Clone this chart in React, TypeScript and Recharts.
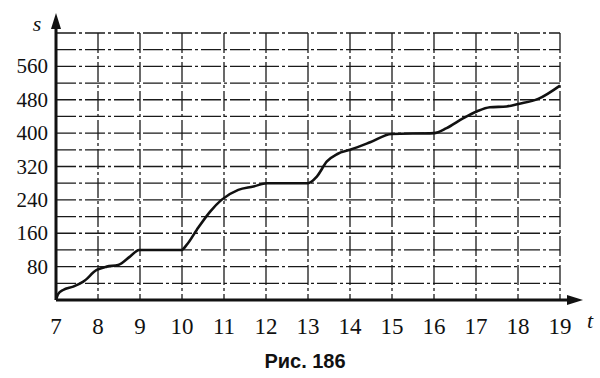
import { LineChart, Line, XAxis, YAxis, CartesianGrid } from "recharts";

// time t (hours) and distance s
const tValues = [
  7, 7.05, 7.17, 7.41, 7.65, 7.97, 8.21, 8.48, 8.76, 8.98, 9.99, 10.11, 10.35,
  10.67, 10.94, 11.34, 11.7, 12.02, 13.0, 13.21, 13.45, 13.7, 14.0, 14.48,
  14.99, 16.0, 16.3, 16.7, 17.02, 17.33, 17.73, 18.01, 18.48, 19,
];
const sValues = [
  0, 14, 24, 32, 44, 72, 80, 84, 104, 120, 120, 132, 168, 212, 240, 264, 272,
  280, 280, 296, 332, 350, 360, 378, 398, 400, 412, 436, 452, 462, 464, 470,
  482, 514,
];
const xTicks = [7, 8, 9, 10, 11, 12, 13, 14, 15, 16, 17, 18, 19];
const yTicks = [0, 40, 80, 120, 160, 200, 240, 280, 320, 360, 400, 440, 480, 520, 560, 600, 640];
const yLabels = [80, 160, 240, 320, 400, 480, 560];

const data = tValues.map((t, i) => ({ t, s: sValues[i] }));

const W = 600;
const H = 378;
const LEFT = 56;
const RIGHT = 560;
const TOP = 33;
const BOTTOM = 300;
const Y_AXIS_W = 50;
const X_AXIS_H = 30;

const serif = "Liberation Serif, DejaVu Serif, serif";

const XTick = (props: any) => {
  const { x, y, payload } = props;
  return (
    <text
      x={x}
      y={y + 28}
      textAnchor="middle"
      fill="#111"
      fontSize={23}
      style={{ fontFamily: serif }}
    >
      {payload.value}
    </text>
  );
};

const YTick = (props: any) => {
  const { x, y, payload } = props;
  if (!yLabels.includes(payload.value)) return <g />;
  return (
    <text
      x={x - 2}
      y={y + 7}
      textAnchor="end"
      fill="#111"
      fontSize={21}
      style={{ fontFamily: serif }}
    >
      {payload.value}
    </text>
  );
};

export default function App() {
  return (
    <div
      style={{
        position: "absolute",
        left: 0,
        top: 0,
        width: W,
        height: H,
        background: "#fff",
      }}
    >
      <LineChart
        width={W}
        height={H}
        data={data}
        margin={{
          top: TOP,
          left: LEFT - Y_AXIS_W,
          right: W - RIGHT,
          bottom: H - BOTTOM - X_AXIS_H,
        }}
      >
        <CartesianGrid
          stroke="#1a1a1a"
          strokeWidth={1.3}
          strokeDasharray="20 3 3 3"
        />
        <XAxis
          dataKey="t"
          type="number"
          domain={[7, 19]}
          ticks={xTicks}
          interval={0}
          height={X_AXIS_H}
          axisLine={false}
          tickLine={false}
          tickMargin={0}
          tick={XTick}
        />
        <YAxis
          type="number"
          domain={[0, 640]}
          ticks={yTicks}
          interval={0}
          width={Y_AXIS_W}
          axisLine={false}
          tickLine={false}
          tickMargin={0}
          tick={YTick}
        />
        <Line
          type="monotone"
          dataKey="s"
          stroke="#111"
          strokeWidth={2.6}
          dot={false}
          isAnimationActive={false}
        />
      </LineChart>
      <svg
        width={W}
        height={H}
        style={{ position: "absolute", left: 0, top: 0, pointerEvents: "none" }}
      >
        <line x1={LEFT} y1={BOTTOM} x2={LEFT} y2={22} stroke="#111" strokeWidth={3} />
        <polygon points={`${LEFT},13 ${LEFT - 5},29 ${LEFT + 5},29`} fill="#111" />
        <line x1={LEFT} y1={BOTTOM} x2={576} y2={BOTTOM} stroke="#111" strokeWidth={3} />
        <polygon
          points={`583,${BOTTOM} 567,${BOTTOM - 5} 567,${BOTTOM + 5}`}
          fill="#111"
        />
        <text
          x={37}
          y={31}
          textAnchor="middle"
          style={{ fontFamily: serif, fontStyle: "italic" }}
          fontSize={22}
          fill="#111"
        >
          s
        </text>
        <text
          x={590}
          y={328}
          textAnchor="middle"
          style={{ fontFamily: serif, fontStyle: "italic" }}
          fontSize={22}
          fill="#111"
        >
          t
        </text>
        <text
          x={305}
          y={368}
          textAnchor="middle"
          style={{ fontFamily: "Liberation Sans, Arial, sans-serif", fontWeight: "bold" }}
          fontSize={20}
          fill="#111"
        >
          Рис. 186
        </text>
      </svg>
    </div>
  );
}
